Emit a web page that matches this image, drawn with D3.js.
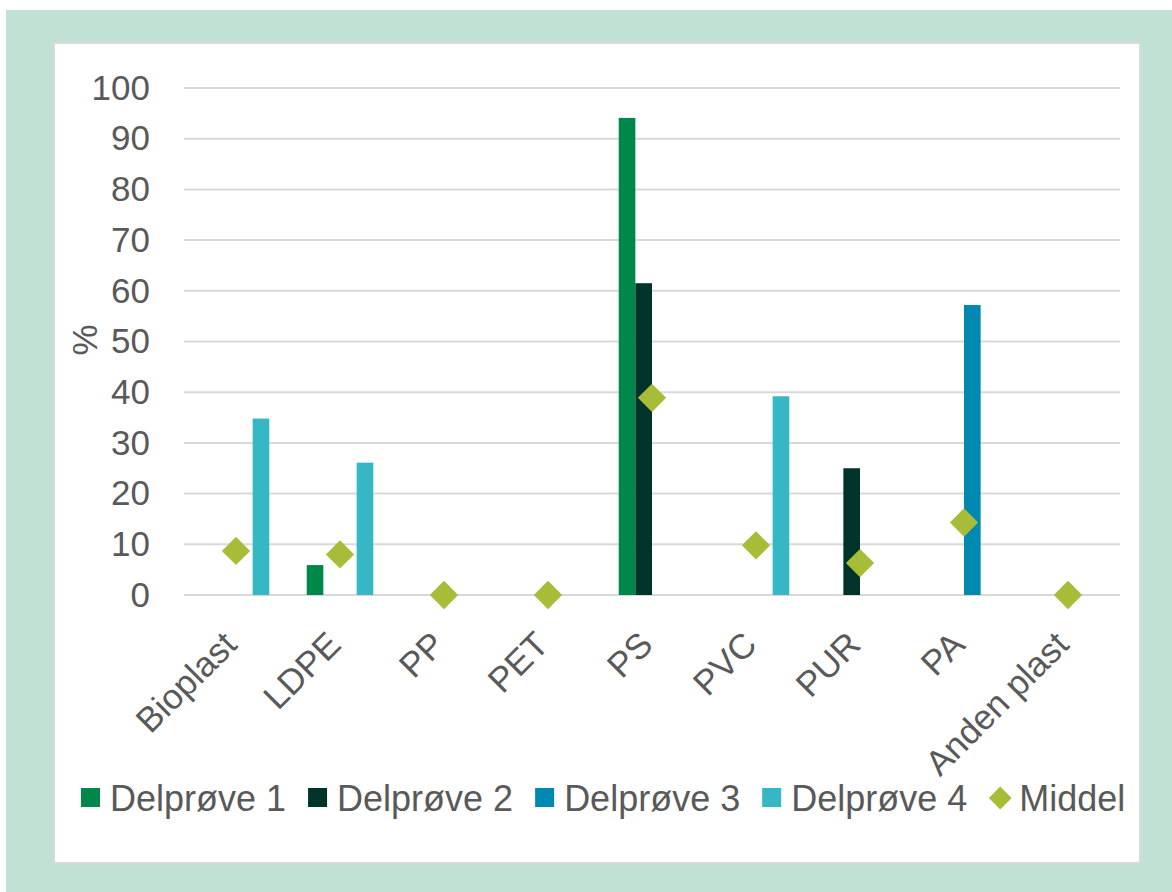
<!DOCTYPE html>
<html>
<head>
<meta charset="utf-8">
<script src="https://cdn.jsdelivr.net/npm/d3@7/dist/d3.min.js"></script>
<style>
  html, body { margin: 0; padding: 0; background: #ffffff; }
  svg { display: block; font-family: "Liberation Sans", Arial, sans-serif; }
</style>
</head>
<body>
<svg id="chart" width="1172" height="892"></svg>
<script>
// Plastic types found in the sample (%), per sub-sample and the mean
const categories = ["Bioplast", "LDPE", "PP", "PET", "PS", "PVC", "PUR", "PA", "Anden plast"];
const seriesNames = ["Delprøve 1", "Delprøve 2", "Delprøve 3", "Delprøve 4"];
const delprove1 = [0, 5.9, 0, 0, 94.1, 0, 0, 0, 0];
const delprove2 = [0, 0, 0, 0, 61.5, 0, 25.0, 0, 0];
const delprove3 = [0, 0, 0, 0, 0, 0, 0, 57.2, 0];
const delprove4 = [34.8, 26.1, 0, 0, 0, 39.2, 0, 0, 0];
const middel = [8.7, 8.0, 0, 0, 38.9, 9.8, 6.3, 14.3, 0];
const yTicks = [0, 10, 20, 30, 40, 50, 60, 70, 80, 90, 100];

const seriesValues = [delprove1, delprove2, delprove3, delprove4];
const seriesColors = ["#00884b", "#00332a", "#0089b0", "#35b8c4"];
const meanColor = "#a9bc38";
const textColor = "#595959";

const svg = d3.select("#chart");

// Frame: green backdrop with a white card
svg.append("rect").attr("x", 6).attr("y", 10).attr("width", 1166).attr("height", 882)
  .attr("fill", "#c0e1d3");
svg.append("rect").attr("x", 54).attr("y", 43).attr("width", 1086).attr("height", 820)
  .attr("fill", "#ffffff").attr("stroke", "#d9d9d9").attr("stroke-width", 2);

const plot = { left: 184, right: 1120, top: 88, bottom: 595 };

const x0 = d3.scaleBand().domain(categories)
  .range([plot.left, plot.right]).paddingInner(0.36).paddingOuter(0.18);
const x1 = d3.scaleBand().domain(seriesNames).range([0, x0.bandwidth()]);
const y = d3.scaleLinear().domain([0, 100]).range([plot.bottom, plot.top]);

// Horizontal gridlines
svg.append("g").selectAll("line").data(yTicks).join("line")
  .attr("x1", plot.left).attr("x2", plot.right)
  .attr("y1", d => y(d)).attr("y2", d => y(d))
  .attr("stroke", "#d9d9d9").attr("stroke-width", 2);

// Y axis tick labels
const yAxis = svg.append("g")
  .attr("transform", `translate(${plot.left - 34},0)`)
  .call(d3.axisLeft(y).tickValues(yTicks).tickSize(0).tickPadding(0));
yAxis.select(".domain").remove();
yAxis.selectAll("text")
  .attr("font-size", 35).attr("fill", textColor)
  .attr("font-family", "Liberation Sans, Arial, sans-serif");

// Y axis title
svg.append("text")
  .attr("transform", "translate(97,340) rotate(-90)")
  .attr("text-anchor", "middle")
  .attr("font-size", 35).attr("fill", textColor)
  .text("%");

// Bars
const barGroups = svg.append("g").selectAll("g").data(categories).join("g")
  .attr("transform", d => `translate(${x0(d)},0)`);
barGroups.selectAll("rect")
  .data((c, i) => seriesNames.map((s, k) => ({ s, k, v: seriesValues[k][i] })))
  .join("rect")
  .filter(d => d.v > 0)
  .attr("x", d => x1(d.s))
  .attr("width", x1.bandwidth())
  .attr("y", d => y(d.v))
  .attr("height", d => y(0) - y(d.v))
  .attr("fill", d => seriesColors[d.k]);

// Mean markers (diamonds)
const diamond = d3.symbol().type(d3.symbolSquare).size(400);
svg.append("g").selectAll("path").data(categories).join("path")
  .attr("d", diamond)
  .attr("transform", (c, i) =>
    `translate(${x0(c) + x0.bandwidth() / 2},${y(middel[i])}) rotate(45)`)
  .attr("fill", meanColor);

// Category labels, rotated
svg.append("g").selectAll("text").data(categories).join("text")
  .attr("transform", c =>
    `translate(${x0(c) + x0.bandwidth() / 2 - 6},638) rotate(-45)`)
  .attr("text-anchor", "end")
  .attr("dy", "0.35em")
  .attr("font-size", 35).attr("fill", textColor)
  .text(c => c);

// Legend
const legend = svg.append("g");
const legendItems = seriesNames.map((s, k) => ({ name: s, color: seriesColors[k], shape: "square" }))
  .concat([{ name: "Middel", color: meanColor, shape: "diamond" }]);
let lx = 81;
const ly = 798;
legendItems.forEach(item => {
  if (item.shape === "square") {
    legend.append("rect").attr("x", lx).attr("y", ly - 10).attr("width", 19).attr("height", 19)
      .attr("fill", item.color);
    lx += 19 + 10;
  } else {
    legend.append("path").attr("d", d3.symbol().type(d3.symbolSquare).size(260))
      .attr("transform", `translate(${lx + 11},${ly}) rotate(45)`)
      .attr("fill", item.color);
    lx += 22 + 8;
  }
  const t = legend.append("text").attr("x", lx).attr("y", ly).attr("dy", "0.35em")
    .attr("font-size", 36).attr("fill", textColor).text(item.name);
  lx += t.node().getComputedTextLength() + 22;
});
</script>
</body>
</html>
